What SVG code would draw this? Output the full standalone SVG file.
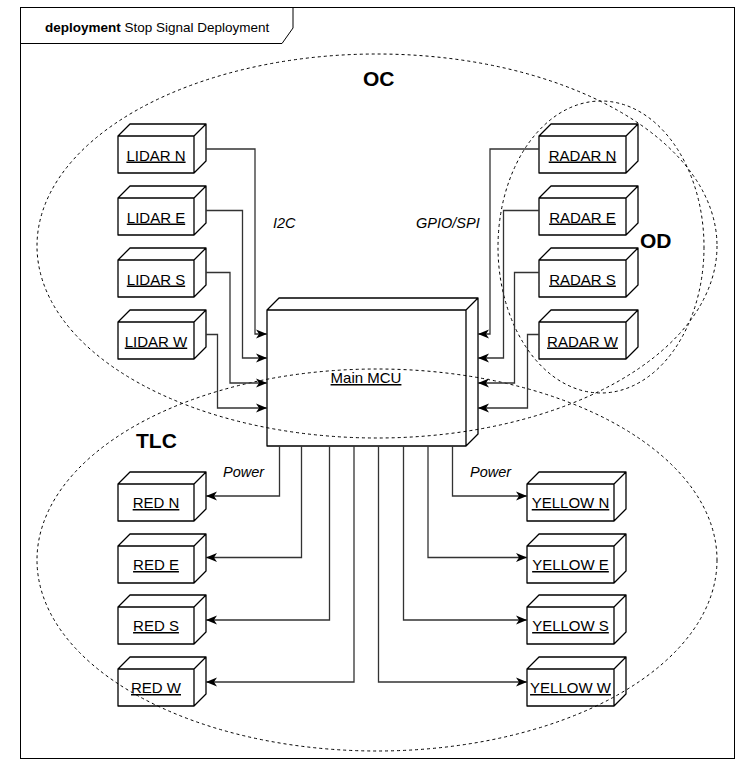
<svg xmlns="http://www.w3.org/2000/svg" width="736" height="760" viewBox="0 0 736 760">
<defs>
<style>
text{font-family:"Liberation Sans",Arial,Helvetica,sans-serif;fill:#000}
.lbl{font-size:15px;text-anchor:middle;text-decoration:underline}
.big{font-size:21px;font-weight:bold}
.it{font-size:14.5px;font-style:italic}
.box{fill:#fff;stroke:#000;stroke-width:1.3;stroke-linejoin:round}
.zone{fill:none;stroke:#000;stroke-width:1;stroke-dasharray:3 3}
.conn path{fill:none;stroke:#333;stroke-width:1.3;marker-end:url(#arr)}
</style>
<marker id="arr" markerUnits="userSpaceOnUse" markerWidth="12" markerHeight="10" viewBox="0 0 12 10" refX="11" refY="5" orient="auto">
<path d="M0,0.5 L11,5 L0,9.5 L3,5 Z" fill="#000" stroke="none"/>
</marker>
</defs>
<rect x="0" y="0" width="736" height="760" fill="#fff"/>
<g id="frame">
<rect x="20.5" y="7.5" width="714" height="751" fill="none" stroke="#000" stroke-width="1"/>
<path d="M20.5,43.5 H282 L293,28 V7.5" fill="none" stroke="#000" stroke-width="1"/>
<text x="45" y="32" font-size="13.5"><tspan font-weight="bold">deployment</tspan> Stop Signal Deployment</text>
</g>
<g id="lidar-n"><path class="box" d="M118,136 L130,124 H206 L194,136 Z M194,136 L206,124 V161 L194,173 Z M118,136 H194 V173 H118 Z"/><text class="lbl" x="156" y="160.5">LIDAR N</text></g>
<g id="lidar-e"><path class="box" d="M118,198 L130,186 H206 L194,198 Z M194,198 L206,186 V223 L194,235 Z M118,198 H194 V235 H118 Z"/><text class="lbl" x="156" y="222.5">LIDAR E</text></g>
<g id="lidar-s"><path class="box" d="M118,260 L130,248 H206 L194,260 Z M194,260 L206,248 V285 L194,297 Z M118,260 H194 V297 H118 Z"/><text class="lbl" x="156" y="284.5">LIDAR S</text></g>
<g id="lidar-w"><path class="box" d="M118,322 L130,310 H206 L194,322 Z M194,322 L206,310 V347 L194,359 Z M118,322 H194 V359 H118 Z"/><text class="lbl" x="156" y="346.5">LIDAR W</text></g>
<g id="radar-n"><path class="box" d="M539,136 L551,124 H638 L626,136 Z M626,136 L638,124 V161 L626,173 Z M539,136 H626 V173 H539 Z"/><text class="lbl" x="582.5" y="160.5">RADAR N</text></g>
<g id="radar-e"><path class="box" d="M539,198 L551,186 H638 L626,198 Z M626,198 L638,186 V223 L626,235 Z M539,198 H626 V235 H539 Z"/><text class="lbl" x="582.5" y="222.5">RADAR E</text></g>
<g id="radar-s"><path class="box" d="M539,260 L551,248 H638 L626,260 Z M626,260 L638,248 V285 L626,297 Z M539,260 H626 V297 H539 Z"/><text class="lbl" x="582.5" y="284.5">RADAR S</text></g>
<g id="radar-w"><path class="box" d="M539,322 L551,310 H638 L626,322 Z M626,322 L638,310 V347 L626,359 Z M539,322 H626 V359 H539 Z"/><text class="lbl" x="582.5" y="346.5">RADAR W</text></g>
<g id="main-mcu"><path class="box" d="M267,310 L279,298 H478 L466,310 Z M466,310 L478,298 V434 L466,446 Z M267,310 H466 V446 H267 Z"/><text class="lbl" x="366" y="383">Main MCU</text></g>
<g id="red-n"><path class="box" d="M118,484 L130,472 H206 L194,484 Z M194,484 L206,472 V509 L194,521 Z M118,484 H194 V521 H118 Z"/><text class="lbl" x="156" y="508">RED N</text></g>
<g id="red-e"><path class="box" d="M118,546 L130,534 H206 L194,546 Z M194,546 L206,534 V571 L194,583 Z M118,546 H194 V583 H118 Z"/><text class="lbl" x="156" y="570">RED E</text></g>
<g id="red-s"><path class="box" d="M118,607 L130,595 H206 L194,607 Z M194,607 L206,595 V632 L194,644 Z M118,607 H194 V644 H118 Z"/><text class="lbl" x="156" y="631">RED S</text></g>
<g id="red-w"><path class="box" d="M118,669 L130,657 H206 L194,669 Z M194,669 L206,657 V694 L194,706 Z M118,669 H194 V706 H118 Z"/><text class="lbl" x="156" y="693">RED W</text></g>
<g id="yellow-n"><path class="box" d="M527,484 L539,472 H626 L614,484 Z M614,484 L626,472 V509 L614,521 Z M527,484 H614 V521 H527 Z"/><text class="lbl" x="570.5" y="508">YELLOW N</text></g>
<g id="yellow-e"><path class="box" d="M527,546 L539,534 H626 L614,546 Z M614,546 L626,534 V571 L614,583 Z M527,546 H614 V583 H527 Z"/><text class="lbl" x="570.5" y="570">YELLOW E</text></g>
<g id="yellow-s"><path class="box" d="M527,607 L539,595 H626 L614,607 Z M614,607 L626,595 V632 L614,644 Z M527,607 H614 V644 H527 Z"/><text class="lbl" x="570.5" y="631">YELLOW S</text></g>
<g id="yellow-w"><path class="box" d="M527,669 L539,657 H626 L614,669 Z M614,669 L626,657 V694 L614,706 Z M527,669 H614 V706 H527 Z"/><text class="lbl" x="570.5" y="693">YELLOW W</text></g>
<g id="zones">
<ellipse class="zone" cx="377" cy="246" rx="340" ry="192"/>
<ellipse class="zone" cx="377" cy="560" rx="340" ry="191"/>
<ellipse class="zone" cx="601" cy="247" rx="103" ry="146"/>
<text class="big" x="363" y="86">OC</text>
<text class="big" x="640" y="248">OD</text>
<text class="big" x="136" y="448">TLC</text>
</g>
<g id="connectors" class="conn">
<path d="M206,149 H255 V334 H267"/>
<path d="M206,210.5 H242.5 V358 H267"/>
<path d="M206,272.5 H230 V383 H267"/>
<path d="M206,334.5 H217.5 V408 H267"/>
<path d="M539,149 H490 V334 H478"/>
<path d="M539,210.5 H503.5 V358 H478"/>
<path d="M539,272.5 H514.5 V383 H478"/>
<path d="M539,334.5 H527.5 V408 H478"/>
<path d="M279.5,446 V496 H206"/>
<path d="M301.5,446 V557.5 H206"/>
<path d="M329.5,446 V620 H206"/>
<path d="M354,446 V682 H206"/>
<path d="M378.5,446 V682 H527"/>
<path d="M403.5,446 V620 H527"/>
<path d="M428,446 V557.5 H527"/>
<path d="M452.5,446 V496 H527"/>
<text class="it" x="273" y="228">I2C</text>
<text class="it" x="416" y="228">GPIO/SPI</text>
<text class="it" x="223" y="476.5">Power</text>
<text class="it" x="470" y="476.5">Power</text>
</g>
</svg>
